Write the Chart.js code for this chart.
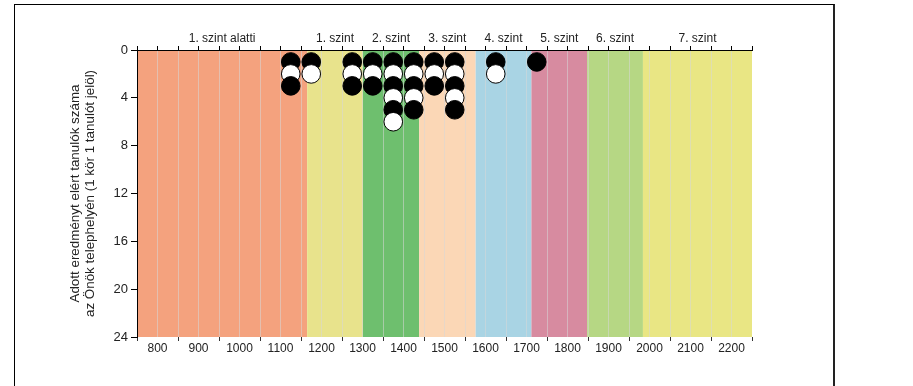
<!DOCTYPE html>
<html><head><meta charset="utf-8">
<script src="https://cdn.jsdelivr.net/npm/chart.js@4.4.1/dist/chart.umd.min.js"></script>
<style>
html,body{margin:0;padding:0;background:#fff;width:913px;height:386px;overflow:hidden;}
#frame{position:absolute;left:14px;top:4px;width:821px;height:420px;border-left:1px solid #000;border-top:1px solid #000;border-right:2px solid #222;box-sizing:border-box;}
#c{position:absolute;left:0;top:0;}
</style></head><body>
<div id="frame"></div>
<canvas id="c" width="913" height="386"></canvas>
<script>
// ---- data ----
const levelNames = ['1. szint alatti', '1. szint', '2. szint', '3. szint', '4. szint', '5. szint', '6. szint', '7. szint'];
const levelBounds = [750, 1165, 1301, 1438, 1576, 1712, 1848, 1984, 2250];
const levelColors = ['#F4A27E', '#E8E38C', '#6EBF6E', '#FBD7B6', '#A9D4E4', '#D78BA0', '#B6D784', '#E9E684'];
const binCenters = [1125, 1175, 1275, 1325, 1375, 1425, 1475, 1525, 1625, 1725];
const studentCounts = [3, 2, 3, 3, 6, 5, 3, 5, 2, 1];
const xMin = 750, xMax = 2250, xStep = 50;
const yMin = 0, yMax = 24, yStep = 4;
const yTitle = ['Adott eredményt elért tanulók száma', 'az Önök telephelyén (1 kör 1 tanulót jelöl)'];

// one circle per student, stacked in each score bin
const points = [];
binCenters.forEach((x, i) => {
  for (let k = 1; k <= studentCounts[i]; k++) points.push({x: x, y: k});
});

const bandPlugin = {
  id: 'bands',
  beforeDraw(chart) {
    const {ctx, chartArea: a, scales: {x}} = chart;
    ctx.save();
    for (let i = 0; i < levelNames.length; i++) {
      const x0 = x.getPixelForValue(levelBounds[i]);
      const x1 = x.getPixelForValue(levelBounds[i + 1]);
      ctx.fillStyle = levelColors[i];
      ctx.fillRect(x0, a.top, x1 - x0, a.bottom - a.top);
      ctx.fillStyle = '#222';
      ctx.font = '12px "Liberation Sans", Arial, sans-serif';
      ctx.textAlign = 'center';
      ctx.textBaseline = 'middle';
      ctx.fillText(levelNames[i], (x0 + x1) / 2, a.top - 11);
    }
    ctx.restore();
  }
};

Chart.defaults.font.family = '"Liberation Sans", Arial, sans-serif';

new Chart(document.getElementById('c'), {
  type: 'scatter',
  data: {
    datasets: [{
      data: points,
      pointRadius: 9.3,
      pointHoverRadius: 9.3,
      borderWidth: 1,
      borderColor: '#000',
      backgroundColor: ctx => (ctx.raw && ctx.raw.y % 2 === 0) ? '#fff' : '#000'
    }]
  },
  options: {
    responsive: false,
    animation: false,
    events: [],
    layout: {padding: {left: 0, right: 161, top: 0, bottom: 0}},
    plugins: {legend: {display: false}, tooltip: {enabled: false}},
    scales: {
      x: {
        type: 'linear', position: 'bottom', min: xMin, max: xMax,
        ticks: {
          stepSize: xStep, autoSkip: false, maxRotation: 0, padding: 0,
          color: '#222', font: {size: 12},
          callback: v => (v % 100 === 0 && v > xMin && v < xMax) ? String(v) : ''
        },
        grid: {
          drawTicks: true, tickLength: 4, lineWidth: 1,
          color: ctx => (ctx.tick && (ctx.tick.value === xMin || ctx.tick.value === xMax)) ? 'rgba(0,0,0,0)' : 'rgba(215,215,215,0.55)',
          tickColor: ctx => (ctx.tick && ctx.tick.value % 100 === 50) ? '#333' : 'rgba(0,0,0,0)'
        },
        border: {display: false},
        afterFit: s => { s.height = 49; }
      },
      xTop: {
        type: 'linear', position: 'top', min: xMin, max: xMax,
        ticks: {display: false, stepSize: xStep},
        grid: {drawOnChartArea: false, tickLength: 4, color: '#000'},
        border: {color: '#000', width: 1},
        afterFit: s => { s.height = 50; }
      },
      y: {
        reverse: true, min: yMin, max: yMax,
        ticks: {stepSize: yStep, color: '#222', font: {size: 13}, padding: 3},
        grid: {drawOnChartArea: false, tickLength: 6, color: '#000'},
        border: {color: '#000', width: 1},
        title: {display: true, text: yTitle, color: '#222', font: {size: 13.4, lineHeight: 1.1}, padding: {top: 68, bottom: 0}},
        afterFit: s => { s.width = 137; }
      }
    }
  },
  plugins: [bandPlugin]
});
</script>
</body></html>
